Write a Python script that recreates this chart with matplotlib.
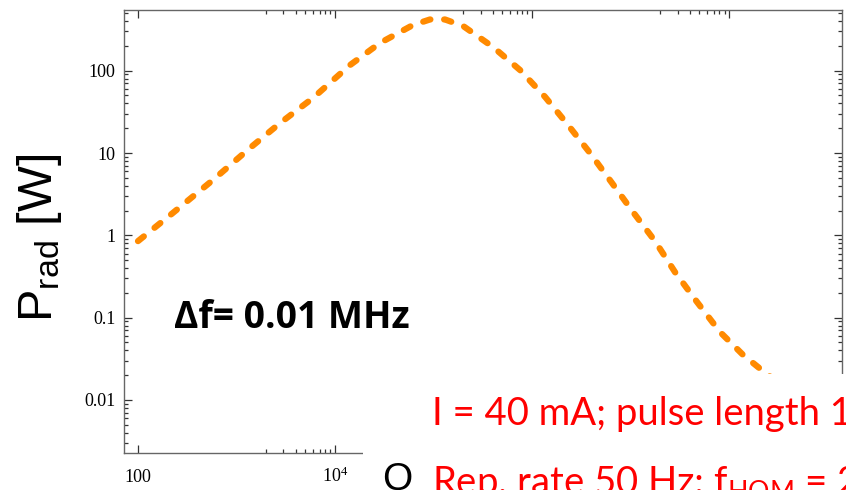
import matplotlib
matplotlib.use("Agg")
import matplotlib.pyplot as plt
from matplotlib.patches import Rectangle
from matplotlib.ticker import FixedLocator, NullFormatter

# ---- data ----
q_values = [100, 226, 577, 1370, 2770, 5980, 14200, 28600, 61900, 92000, 131000,
            200000, 402000, 755000, 1.36e6, 2.32e6, 3.88e6, 6.49e6, 1.06e7,
            1.77e7, 2.83e7, 4.73e7, 8.11e7, 1.39e8, 2.49e8, 5.0e8]
p_values = [0.85, 1.87, 4.70, 11.5, 23.1, 46.6, 117, 217, 359, 419, 419,
            349, 194, 102, 47.9, 21.9, 10.0, 4.32, 1.92,
            0.853, 0.357, 0.155, 0.0668, 0.0352, 0.020, 0.0112]

x_major = [100, 1e4, 1e6, 1e8]
x_major_labels = ["100", r"$\mathrm{10^{4}}$", "", ""]
y_major = [0.01, 0.1, 1, 10, 100]
y_major_labels = ["0.01", "0.1", "1", "10", "100"]

annotation = "\u0394f= 0.01 MHz"
info_line1 = "I = 40 mA; pulse length 1 ms"
info_line2 = r"Rep. rate 50 Hz; $\mathregular{f_{HOM}}$ = 2 GHz"

plt.rcParams["mathtext.fontset"] = "custom"
plt.rcParams["mathtext.rm"] = "Liberation Serif"
plt.rcParams["mathtext.sf"] = "Liberation Sans"
plt.rcParams["mathtext.it"] = "Liberation Serif:italic"

W, H = 846, 490
fig = plt.figure(figsize=(W / 100, H / 100), dpi=100)
ax = fig.add_axes([124 / W, 1 - 453 / H, (842 - 124) / W, (453 - 10) / H])

ax.plot(q_values, p_values, color="#FF8A00", lw=4.5, linestyle=(0, (1.2, 2.2)),
        dash_capstyle="round", solid_capstyle="round")

ax.set_xscale("log")
ax.set_yscale("log")
ax.set_xlim(10 ** 1.858, 10 ** 9.147)
ax.set_ylim(10 ** -2.645, 10 ** 2.7375)

ax.xaxis.set_major_locator(FixedLocator(x_major))
ax.set_xticklabels(x_major_labels)
minor_x = [k * 10 ** e for e in (3, 5, 7) for k in range(2, 10)]
ax.xaxis.set_minor_locator(FixedLocator(minor_x))
ax.xaxis.set_minor_formatter(NullFormatter())
ax.yaxis.set_major_locator(FixedLocator(y_major))
ax.set_yticklabels(y_major_labels)
minor_y = [k * 10 ** e for e in range(-3, 3) for k in range(2, 10)]
ax.yaxis.set_minor_locator(FixedLocator(minor_y))
ax.yaxis.set_minor_formatter(NullFormatter())

for sp in ax.spines.values():
    sp.set_color("#666666")
    sp.set_linewidth(1.0)
ax.tick_params(which="both", direction="in", top=True, right=True, colors="#333333",
               labelcolor="black", width=0.9)
ax.tick_params(which="major", length=6)
ax.tick_params(which="minor", length=3)
ax.tick_params(axis="y", which="major", pad=6, labelsize=13)
ax.tick_params(axis="x", which="major", pad=21, labelsize=13)
for lab in ax.get_yticklabels():
    lab.set_fontfamily("Liberation Serif")
for lab in ax.get_xticklabels():
    lab.set_fontfamily("Liberation Serif")
    lab.set_verticalalignment("baseline")

def fx(px):
    return px / W

def fy(py):
    return 1 - py / H

# y label
fig.text(fx(15), fy(238), r"$\mathsf{P_{rad}}$ [W]", rotation=90, ha="left", va="center",
         fontsize=35, family="Liberation Sans")

# annotation inside plot
fig.text(fx(174), fy(328), annotation, fontsize=26.8, fontweight="bold", family="Open Sans",
         ha="left", va="baseline")

# white overlay box at bottom-right
fig.patches.append(Rectangle((fx(363), 0), 1 - fx(363), fy(374), transform=fig.transFigure,
                             facecolor="white", edgecolor="none", zorder=5))

# x label (partially hidden)
fig.text(fx(382), fy(490), "Q", fontsize=28, family="Liberation Sans", ha="left",
         va="baseline", zorder=6)

fig.text(fx(432), fy(425), info_line1, fontsize=27.5, family="Lato", color="#FF0000",
         ha="left", va="baseline", zorder=6)
fig.text(fx(432), fy(494), info_line2, fontsize=27.5, family="Lato", color="#FF0000",
         ha="left", va="baseline", zorder=6)

fig.savefig("out.png", dpi=100)
